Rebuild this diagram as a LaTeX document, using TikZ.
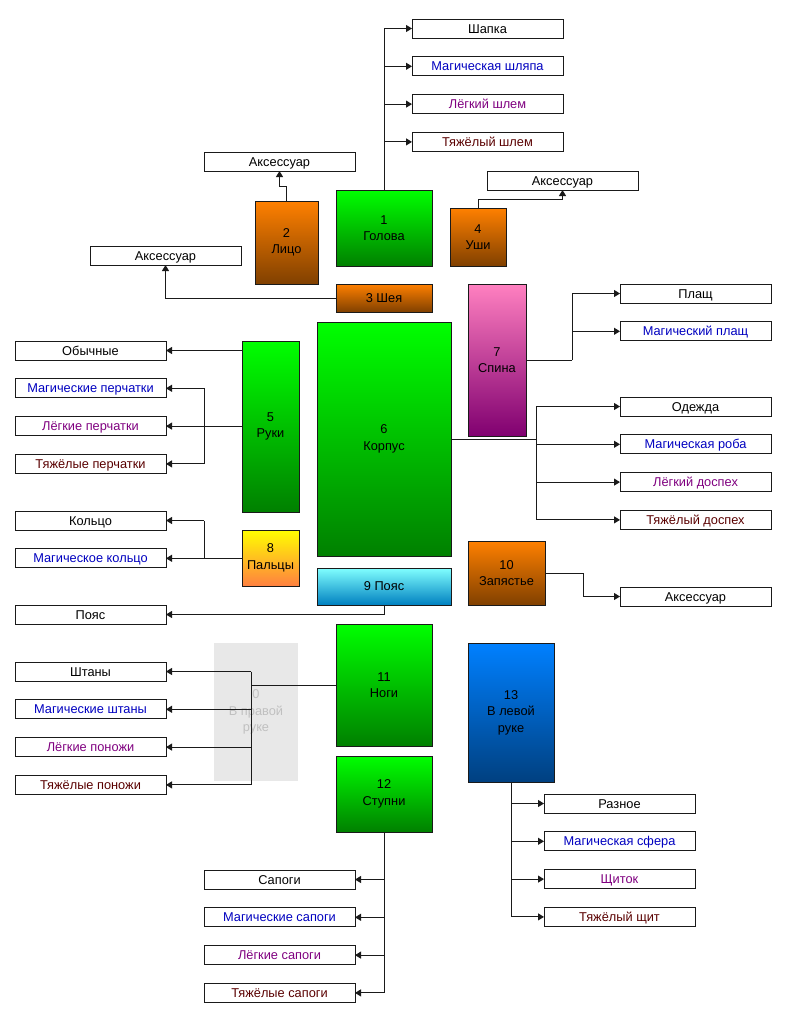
\documentclass[tikz,border=0pt]{standalone}
\usepackage{fontspec}
\setmainfont{Liberation Sans}
\usetikzlibrary{arrows.meta,positioning}
\definecolor{eqLine}{HTML}{1A1A1A}
\definecolor{eqMagic}{HTML}{0000C0}
\definecolor{eqLight}{HTML}{800080}
\definecolor{eqHeavy}{HTML}{5A0000}
\definecolor{eqGhost}{HTML}{E8E8E8}
\definecolor{eqGhostText}{HTML}{C0C0C0}

\begin{document}
\begin{tikzpicture}[x=1pt, y=-1pt,
    node distance=18.8pt,
    part/.style={draw=eqLine, line width=1pt, anchor=north west, inner sep=0pt,
      outer sep=0pt, align=center, font=\fontsize{12.8}{16.5}\selectfont},
    item/.style={draw=eqLine, fill=white, line width=1pt, minimum width=151pt,
      minimum height=19pt, inner sep=0pt, outer sep=0pt, text height=9.1pt, text depth=0pt,
      font=\fontsize{12.8}{14}\selectfont},
    imagic/.style={text=eqMagic}, ilight/.style={text=eqLight}, iheavy/.style={text=eqHeavy},
    pgreen/.style={top color={rgb,255:red,0;green,255;blue,0}, bottom color={rgb,255:red,0;green,128;blue,0}},
    porange/.style={top color={rgb,255:red,255;green,128;blue,0}, bottom color={rgb,255:red,128;green,64;blue,0}},
    ppink/.style={top color={rgb,255:red,255;green,128;blue,192}, bottom color={rgb,255:red,128;green,0;blue,112}},
    pyellow/.style={top color={rgb,255:red,255;green,255;blue,0}, bottom color={rgb,255:red,255;green,128;blue,64}},
    pcyan/.style={top color={rgb,255:red,128;green,255;blue,255}, bottom color={rgb,255:red,0;green,128;blue,192}},
    pblue/.style={top color={rgb,255:red,0;green,128;blue,255}, bottom color={rgb,255:red,0;green,64;blue,128}},
    link/.style={line width=1pt, eqLine},
    arr/.style={link, -{Triangle[length=6pt,width=7pt]}}]
  \useasboundingbox (0,0) rectangle (790,1018);

  % slot 0 (greyed out)
  \node[part, draw=none, fill=eqGhost, text=eqGhostText, minimum width=84pt, minimum height=138pt] (rhand) at (214,643) {0\\В правой\\руке};

  % body slots
  \node[part, pgreen, minimum width=96pt, minimum height=76pt] (head) at (336,190) {1\\Голова};
  \node[part, porange, minimum width=63pt, minimum height=83pt] (face) at (255,201) {2\\Лицо};
  \node[part, porange, minimum width=96pt, minimum height=28pt] (neck) at (336,284) {3 Шея};
  \node[part, porange, minimum width=56pt, minimum height=58pt] (ears) at (450,208) {4\\Уши};
  \node[part, pgreen, minimum width=57pt, minimum height=171pt] (hands) at (242,341) {5\\Руки};
  \node[part, pgreen, minimum width=134pt, minimum height=234pt] (torso) at (317,322) {6\\Корпус};
  \node[part, ppink, minimum width=58pt, minimum height=152pt] (back) at (468,284) {7\\Спина};
  \node[part, pyellow, minimum width=57pt, minimum height=56pt] (fingers) at (242,530) {8\\Пальцы};
  \node[part, pcyan, minimum width=134pt, minimum height=37pt] (belt) at (317,568) {9 Пояс};
  \node[part, porange, minimum width=77pt, minimum height=64pt] (wrist) at (468,541) {10\\Запястье};
  \node[part, pgreen, minimum width=96pt, minimum height=122pt] (legs) at (336,624) {11\\Ноги};
  \node[part, pgreen, minimum width=96pt, minimum height=76pt] (feet) at (336,756) {12\\Ступни};
  \node[part, pblue, minimum width=86pt, minimum height=139pt] (lhand) at (468,643) {13\\В левой\\руке};

  % head items
  \node[item, anchor=north west] (hat1) at (412,19) {Шапка};
  \node[item, imagic, below=of hat1] (hat2) {Магическая шляпа};
  \node[item, ilight, below=of hat2] (hat3) {Лёгкий шлем};
  \node[item, iheavy, below=of hat3] (hat4) {Тяжёлый шлем};

  % accessories
  \node[item, anchor=north west] (faceacc) at (204,152) {Аксессуар};
  \node[item, anchor=north west] (earacc) at (487,171) {Аксессуар};
  \node[item, anchor=north west] (neckacc) at (90,246) {Аксессуар};
  \node[item, anchor=north west] (wristacc) at (620,587) {Аксессуар};

  % gloves, rings, belt
  \node[item, anchor=north west] (glv1) at (15,341) {Обычные};
  \node[item, imagic, below=of glv1] (glv2) {Магические перчатки};
  \node[item, ilight, below=of glv2] (glv3) {Лёгкие перчатки};
  \node[item, iheavy, below=of glv3] (glv4) {Тяжёлые перчатки};
  \node[item, anchor=north west] (ring1) at (15,511) {Кольцо};
  \node[item, imagic, below=of ring1] (ring2) {Магическое кольцо};
  \node[item, anchor=north west] (beltitem) at (15,605) {Пояс};

  % legs
  \node[item, anchor=north west] (pant1) at (15,662) {Штаны};
  \node[item, imagic, below=of pant1] (pant2) {Магические штаны};
  \node[item, ilight, below=of pant2] (pant3) {Лёгкие поножи};
  \node[item, iheavy, below=of pant3] (pant4) {Тяжёлые поножи};

  % back and torso
  \node[item, anchor=north west] (cloak1) at (620,284) {Плащ};
  \node[item, imagic, below=of cloak1] (cloak2) {Магический плащ};
  \node[item, anchor=north west] (armr1) at (620,397) {Одежда};
  \node[item, imagic, below=of armr1] (armr2) {Магическая роба};
  \node[item, ilight, below=of armr2] (armr3) {Лёгкий доспех};
  \node[item, iheavy, below=of armr3] (armr4) {Тяжёлый доспех};

  % feet
  \node[item, anchor=north west] (boot1) at (204,870) {Сапоги};
  \node[item, imagic, below=of boot1] (boot2) {Магические сапоги};
  \node[item, ilight, below=of boot2] (boot3) {Лёгкие сапоги};
  \node[item, iheavy, below=of boot3] (boot4) {Тяжёлые сапоги};

  % left hand
  \node[item, anchor=north west] (shld1) at (544,794) {Разное};
  \node[item, imagic, below=of shld1] (shld2) {Магическая сфера};
  \node[item, ilight, below=of shld2] (shld3) {Щиток};
  \node[item, iheavy, below=of shld3] (shld4) {Тяжёлый щит};

  % connectors
  \draw[arr] (head.north) |- (hat1.west);
  \foreach \n in {hat2,hat3,hat4} \draw[arr] (head.north |- \n.west) -- (\n.west);
  \draw[arr] (face.north) -- ++(0,-15) -| (faceacc.south);
  \draw[arr] (ears.north) -- ++(0,-9) -| (earacc.south);
  \draw[arr] (neck.west) -| (neckacc.south);

  \draw[arr] (hands.west |- glv1.east) -- (glv1.east);
  \draw[link] (hands.west) -- ++(-38,0) coordinate (hj);
  \draw[link] (hj |- glv2.east) -- (hj |- glv4.east);
  \foreach \n in {glv2,glv3,glv4} \draw[arr] (hj |- \n.east) -- (\n.east);

  \draw[link] (fingers.west) -- ++(-38,0) coordinate (fj);
  \draw[link] (fj) -- (fj |- ring1.east);
  \foreach \n in {ring1,ring2} \draw[arr] (fj |- \n.east) -- (\n.east);

  \draw[arr] (belt.south) |- (beltitem.east);

  \draw[link] (legs.west) -- ++(-85,0) coordinate (lj);
  \draw[link] (lj |- pant1.east) -- (lj |- pant4.east);
  \foreach \n in {pant1,pant2,pant3,pant4} \draw[arr] (lj |- \n.east) -- (\n.east);

  \draw[link] (feet.south) -- (feet.south |- boot4.east);
  \foreach \n in {boot1,boot2,boot3,boot4} \draw[arr] (feet.south |- \n.east) -- (\n.east);

  \draw[link] (lhand.south) -- (lhand.south |- shld4.west);
  \foreach \n in {shld1,shld2,shld3,shld4} \draw[arr] (lhand.south |- \n.west) -- (\n.west);

  \draw[link] (back.east) -- ++(46,0) coordinate (bj);
  \draw[link] (bj) -- (bj |- cloak1.west);
  \foreach \n in {cloak1,cloak2} \draw[arr] (bj |- \n.west) -- (\n.west);

  \draw[link] (torso.east) -- ++(85,0) coordinate (tj);
  \draw[link] (tj |- armr1.west) -- (tj |- armr4.west);
  \foreach \n in {armr1,armr2,armr3,armr4} \draw[arr] (tj |- \n.west) -- (\n.west);

  \draw[arr] (wrist.east) -- ++(38,0) |- (wristacc.west);
\end{tikzpicture}
\end{document}
